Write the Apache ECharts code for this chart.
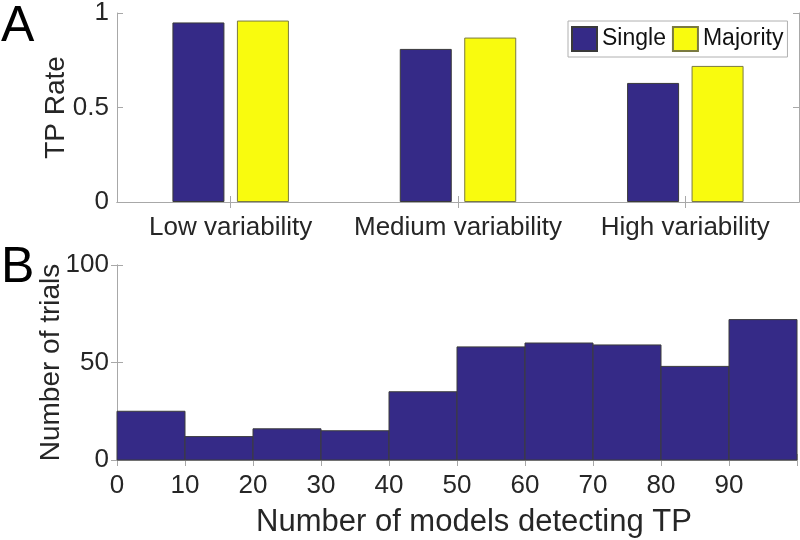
<!DOCTYPE html>
<html>
<head>
<meta charset="utf-8">
<script src="https://cdn.jsdelivr.net/npm/echarts@6/dist/echarts.min.js"></script>
<style>html,body{margin:0;padding:0;background:#fff}#c{width:800px;height:540px}</style>
</head>
<body>
<div id="c"></div>
<script>
// Panel A data
const categories = ['Low variability', 'Medium variability', 'High variability'];
const singleRate = [0.95, 0.81, 0.63];
const majorityRate = [0.96, 0.87, 0.72];
// Panel B data (histogram)
const binStart = [0, 10, 20, 30, 40, 50, 60, 70, 80, 90];
const binEnd = [10, 20, 30, 40, 50, 60, 70, 80, 90, 100];
const trialCounts = [25, 12, 16, 15, 35, 58, 60, 59, 48, 72];
const xTickLabelsB = ['0', '10', '20', '30', '40', '50', '60', '70', '80', '90'];

const FONT = 'Liberation Sans';
const TXT = '#262626';
const AX = '#a8a8a8';
const BLUE = '#352a87';
const YEL = '#f9fb0e';

const axLine = { show: true, lineStyle: { color: AX, width: 1 } };
const tickIn = { show: true, inside: true, length: 6, lineStyle: { color: AX } };

const chart = echarts.init(document.getElementById('c'), null, { renderer: 'canvas' });
chart.setOption({
  animation: false,
  backgroundColor: '#fff',
  textStyle: { fontFamily: FONT, color: TXT },
  title: [
    { text: 'A', left: 1, top: 2, padding: 0, textStyle: { fontFamily: FONT, fontSize: 50, fontWeight: 'normal', color: '#000' } },
    { text: 'B', left: 1, top: 243, padding: 0, textStyle: { fontFamily: FONT, fontSize: 50, fontWeight: 'normal', color: '#000' } }
  ],
  legend: {
    data: ['Single', 'Majority'],
    icon: 'rect',
    left: 568, top: 21,
    padding: [5, 4, 5, 3],
    itemWidth: 25, itemHeight: 24, itemGap: 6,
    backgroundColor: '#fff',
    borderColor: '#b0b0b0', borderWidth: 1, borderRadius: 0,
    textStyle: { fontFamily: FONT, fontSize: 23, color: '#111' }
  },
  grid: [
    { left: 117, top: 8, width: 682, height: 194, containLabel: false },
    { left: 117, top: 265, width: 682, height: 195, containLabel: false }
  ],
  xAxis: [
    { gridIndex: 0, type: 'category', data: categories, position: 'bottom',
      axisLine: axLine, axisTick: Object.assign({ alignWithLabel: true }, tickIn),
      axisLabel: { interval: 0, fontSize: 26, margin: 13, color: TXT, fontFamily: FONT } },
    { gridIndex: 0, type: 'category', data: categories, position: 'top',
      axisLine: axLine, axisTick: Object.assign({ alignWithLabel: true }, tickIn),
      axisLabel: { show: false } },
    { gridIndex: 1, type: 'value', min: 0, max: 100, interval: 10, position: 'bottom',
      axisLine: axLine, axisTick: tickIn, splitLine: { show: false },
      axisLabel: { fontSize: 26, margin: 13, color: TXT, fontFamily: FONT,
        formatter: function (v) { const i = binStart.indexOf(v); return i >= 0 ? xTickLabelsB[i] : ''; } },
      name: 'Number of models detecting TP', nameLocation: 'middle', nameGap: 47, nameMoveOverlap: false,
      nameTextStyle: { fontSize: 31, color: TXT, fontFamily: FONT, padding: [0, 0, 0, 34] } },
    { gridIndex: 1, type: 'value', min: 0, max: 100, interval: 10, position: 'top',
      axisLine: axLine, axisTick: tickIn, splitLine: { show: false }, axisLabel: { show: false } }
  ],
  yAxis: [
    { gridIndex: 0, type: 'value', min: 0, max: 1, interval: 0.5, position: 'left',
      axisLine: axLine, axisTick: tickIn, splitLine: { show: false },
      axisLabel: { fontSize: 26, margin: 8, color: TXT, fontFamily: FONT },
      name: 'TP Rate', nameLocation: 'middle', nameGap: 47, nameMoveOverlap: false,
      nameTextStyle: { fontSize: 28, color: TXT, fontFamily: FONT } },
    { gridIndex: 0, type: 'value', min: 0, max: 1, interval: 0.5, position: 'right',
      axisLine: axLine, axisTick: tickIn, splitLine: { show: false }, axisLabel: { show: false } },
    { gridIndex: 1, type: 'value', min: 0, max: 100, interval: 50, position: 'left',
      axisLine: axLine, axisTick: tickIn, splitLine: { show: false },
      axisLabel: { fontSize: 26, margin: 8, color: TXT, fontFamily: FONT },
      name: 'Number of trials', nameLocation: 'middle', nameGap: 52, nameMoveOverlap: false,
      nameTextStyle: { fontSize: 28, color: TXT, fontFamily: FONT } },
    { gridIndex: 1, type: 'value', min: 0, max: 100, interval: 50, position: 'right',
      axisLine: axLine, axisTick: tickIn, splitLine: { show: false }, axisLabel: { show: false } }
  ],
  series: [
    { name: 'Single', type: 'bar', xAxisIndex: 0, yAxisIndex: 0, data: singleRate,
      barWidth: 52, barGap: '24%',
      itemStyle: { color: BLUE, borderColor: '#3a3a3a', borderWidth: 1 } },
    { name: 'Majority', type: 'bar', xAxisIndex: 0, yAxisIndex: 0, data: majorityRate,
      barWidth: 52, barGap: '24%',
      itemStyle: { color: YEL, borderColor: '#7a7a40', borderWidth: 1 } },
    { name: 'Trials', type: 'custom', xAxisIndex: 2, yAxisIndex: 2,
      data: binStart.map(function (s, i) { return [s, binEnd[i], trialCounts[i]]; }),
      encode: { x: [0, 1], y: 2 },
      renderItem: function (params, api) {
        const p0 = api.coord([api.value(0), api.value(2)]);
        const p1 = api.coord([api.value(1), 0]);
        return {
          type: 'rect',
          shape: { x: p0[0], y: p0[1], width: p1[0] - p0[0], height: p1[1] - p0[1] },
          style: { fill: BLUE, stroke: '#3c3c3c', lineWidth: 1 }
        };
      },
      z: 1
    }
  ]
});
</script>
</body>
</html>
